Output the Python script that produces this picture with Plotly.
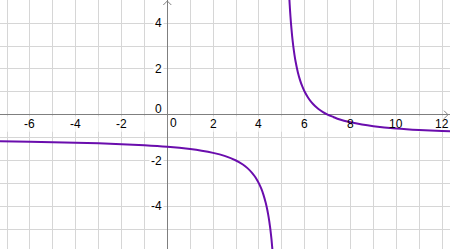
import plotly.graph_objects as go

# Curve samples (left and right branches)
left_x = [-7.4, -6, -5, -4, -3, -2, -1, 0, 1, 1.5, 2, 2.5, 3, 3.3, 3.5, 3.7, 3.8, 3.9, 4, 4.1, 4.2, 4.3, 4.35, 4.4, 4.45, 4.5, 4.55, 4.6]
left_y = [-1.161, -1.182, -1.2, -1.222, -1.25, -1.286, -1.333, -1.4, -1.5, -1.571, -1.667, -1.8, -2.0, -2.176, -2.333, -2.538, -2.667, -2.818, -3.0, -3.222, -3.5, -3.857, -4.077, -4.333, -4.636, -5.0, -5.444, -6.0]
right_x = [5.3, 5.33, 5.36, 5.4, 5.45, 5.5, 5.55, 5.6, 5.7, 5.8, 5.9, 6, 6.15, 6.3, 6.45, 6.6, 6.8, 7, 7.25, 7.5, 8, 8.5, 9, 10, 11, 12, 12.5]
right_y = [5.667, 5.061, 4.556, 4.0, 3.444, 3.0, 2.636, 2.333, 1.857, 1.5, 1.222, 1.0, 0.739, 0.538, 0.379, 0.25, 0.111, 0.0, -0.1, -0.2, -0.333, -0.429, -0.5, -0.6, -0.667, -0.714, -0.733]

x_ticks = [-6, -4, -2, 2, 4, 6, 8, 10, 12]
y_ticks = [-4, -2, 2, 4]

PX = 22.9
X0_PX, Y0_PX = 167.3, 114.7
W, H = 450, 249
xr = [-X0_PX / PX, (W - X0_PX) / PX]
yr = [-(H - Y0_PX) / PX, Y0_PX / PX]

color = "#6a0dad"
fig = go.Figure()
for xs, ys in ((left_x, left_y), (right_x, right_y)):
    fig.add_trace(go.Scatter(x=xs, y=ys, mode="lines",
                             line=dict(color=color, width=2, shape="spline", smoothing=0.6),
                             hoverinfo="skip", showlegend=False))

axis_common = dict(showgrid=True, gridcolor="#d6d6d6", gridwidth=1, dtick=1,
                   zeroline=True, zerolinecolor="#7f7f7f", zerolinewidth=1,
                   showticklabels=False, ticks="", showline=False, fixedrange=True)
fig.update_layout(
    width=W, height=H, margin=dict(l=0, r=0, t=0, b=0),
    paper_bgcolor="white", plot_bgcolor="white",
    xaxis=dict(range=xr, tick0=0, **axis_common),
    yaxis=dict(range=yr, tick0=0, **axis_common),
    font=dict(family="Liberation Sans, Arial, sans-serif", size=12, color="#000"),
)

ann = []
for v in x_ticks:
    ann.append(dict(x=v, y=0, xref="x", yref="y", text=str(v), showarrow=False,
                    xanchor="center", yanchor="middle", yshift=-9))
for v in y_ticks:
    ann.append(dict(x=0, y=v, xref="x", yref="y", text=str(v), showarrow=False,
                    xanchor="right", yanchor="middle", xshift=-3,
                    bgcolor="white", borderpad=1))
ann.append(dict(x=0, y=0, xref="x", yref="y", text="0", showarrow=False,
                xanchor="right", yanchor="middle", xshift=-3, yshift=6))
ann.append(dict(x=0, y=0, xref="x", yref="y", text="0", showarrow=False,
                xanchor="left", yanchor="middle", xshift=1, yshift=-8))
fig.update_layout(annotations=ann)

# faded label strip below the x-axis (skipping the y-axis line)
s_top = -1.5 / PX
s_bot = -17.0 / PX
gap = 0.6 / PX
shapes = [
    dict(type="rect", xref="x", yref="y", x0=xr[0], x1=-gap, y0=s_bot, y1=s_top,
         fillcolor="rgba(255,255,255,0.6)", line=dict(width=0), layer="between"),
    dict(type="rect", xref="x", yref="y", x0=gap, x1=xr[1], y0=s_bot, y1=s_top,
         fillcolor="rgba(255,255,255,0.6)", line=dict(width=0), layer="between"),
]

# arrow chevrons on axis ends
a = 4 / PX
top = yr[1] - 1 / PX
right = xr[1] - 2 / PX
shapes += [
    dict(type="path", xref="x", yref="y",
         path=f"M {-a} {top - a} L 0 {top} L {a} {top - a}",
         line=dict(color="#7f7f7f", width=1)),
    dict(type="path", xref="x", yref="y",
         path=f"M {right - a} {a} L {right} 0 L {right - a} {-a}",
         line=dict(color="#7f7f7f", width=1)),
]
fig.update_layout(shapes=shapes)

fig.write_html("out.html")
